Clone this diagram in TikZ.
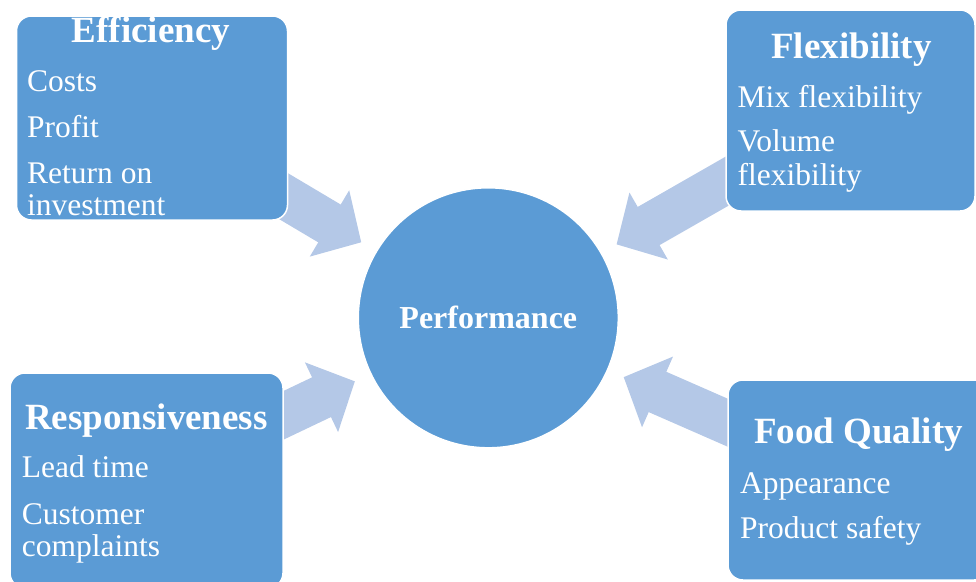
\documentclass[tikz,border=0pt]{standalone}
\usepackage{fontspec}
\setmainfont{Liberation Serif}
\usetikzlibrary{arrows.meta,backgrounds}
\definecolor{boxblue}{HTML}{5B9BD5}
\definecolor{arrowblue}{HTML}{B4C8E7}
\tikzstyle{groupbox} = [draw=white,line width=1.5pt,fill=boxblue,rounded corners=15pt,inner sep=0pt]
\tikzstyle{grouptitle} = [text=white,font=\bfseries\fontsize{37}{37}\selectfont,inner sep=0pt,anchor=base]
\tikzstyle{groupitem} = [text=white,font=\fontsize{31.5}{32}\selectfont,inner sep=0pt,anchor=base west]
\tikzstyle{bigarrow} = [arrowblue,line width=44pt,-{Triangle[length=37pt,width=75pt]},shorten >=17pt]

\begin{document}
\begin{tikzpicture}[x=1pt,y=-1pt]
  \clip (0,0) rectangle (976,581);
  % centre
  \node[circle,fill=boxblue,draw=white,line width=1.5pt,minimum size=260pt,inner sep=0pt,
        text=white,font=\bfseries\fontsize{32}{32}\selectfont] (perf) at (488.3,317.8) {Performance};
  % four groups
  \node[groupbox,minimum width=271pt,minimum height=204pt] (eff) at (152,118) {};
  \node[groupbox,minimum width=249pt,minimum height=201pt] (flex) at (850.5,110.5) {};
  \node[groupbox,minimum width=273pt,minimum height=215pt] (resp) at (146.5,480.5) {};
  \node[groupbox,minimum width=261pt,minimum height=200pt] (qual) at (858.5,480) {};
  \node[grouptitle] (eff-title) at (151,42.7) {Efficiency};
  \node[groupitem] (eff-costs) at (27,91.7) {Costs};
  \node[groupitem] (eff-profit) at (27,137.3) {Profit};
  \node[groupitem] (eff-roi) at (27,183.3) {Return on};
  \node[groupitem] (eff-roi2) at (27,215) {investment};
  \node[grouptitle] (flex-title) at (851.5,58.3) {Flexibility};
  \node[groupitem] (flex-mix) at (737.5,107.3) {Mix flexibility};
  \node[groupitem] (flex-vol) at (737.5,151.7) {Volume};
  \node[groupitem] (flex-vol2) at (737.5,185) {flexibility};
  \node[grouptitle] (resp-title) at (146.5,429) {Responsiveness};
  \node[groupitem] (resp-lead) at (21.7,477.3) {Lead time};
  \node[groupitem] (resp-cust) at (21.7,524) {Customer};
  \node[groupitem] (resp-cust2) at (21.7,556) {complaints};
  \node[grouptitle] (qual-title) at (858.5,443) {Food Quality};
  \node[groupitem] (qual-look) at (740,493) {Appearance};
  \node[groupitem] (qual-safe) at (740,538) {Product safety};
  % arrows behind the boxes
  \begin{scope}[on background layer]
    \foreach \grp in {eff,flex,resp,qual}
      \draw[bigarrow] (\grp.center) -- (perf);
  \end{scope}
\end{tikzpicture}
\end{document}
